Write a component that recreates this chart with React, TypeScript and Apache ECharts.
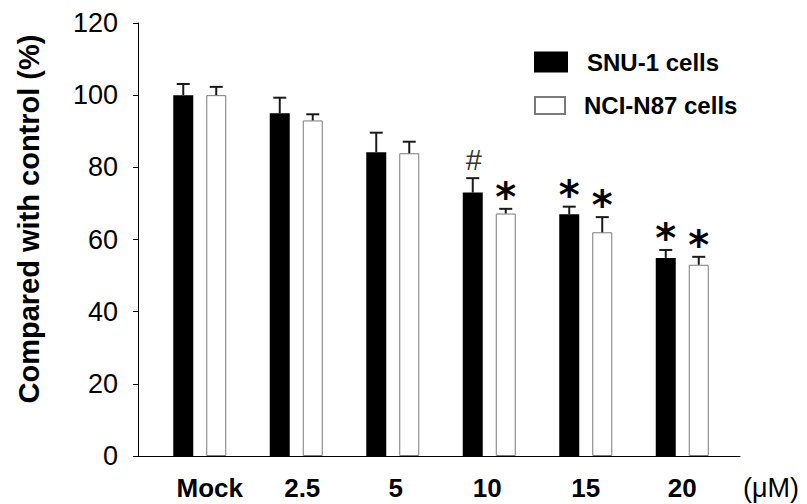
import React, { useEffect, useRef } from 'react';
import * as echarts from 'echarts';

const categories = ['Mock', '2.5', '5', '10', '15', '20'];
const snuValues = [100, 95.0, 84.2, 73.0, 67.0, 54.9];
const snuErrors = [3.1, 4.3, 5.4, 4.0, 2.1, 2.2];
const nciValues = [100, 93.0, 83.9, 67.2, 62.0, 53.0];
const nciErrors = [2.3, 1.7, 3.2, 1.3, 4.2, 2.2];
const snuMarks = ['', '', '', '#', '*', '*'];
const nciMarks = ['', '', '', '*', '*', '*'];
const seriesNames = ['SNU-1 cells', 'NCI-N87 cells'];
const yAxisTitle = 'Compared with control (%)';
const xUnit = '(\u03bcM)';

const FONT = '"Liberation Sans", Arial, Helvetica, sans-serif';
const BAR_W = 20;
const BAR_OFFSET = 16.5;

export default function App() {
  const ref = useRef<HTMLDivElement>(null);

  useEffect(() => {
    const chart = echarts.init(ref.current!, null, { renderer: 'svg' });

    const errSeries = (values: number[], errors: number[], marks: string[], dir: number) => ({
      type: 'custom',
      xAxisIndex: 1,
      yAxisIndex: 1,
      z: 5,
      data: values.map((v, i) => [i, v, v + errors[i]]),
      renderItem: (params: any, api: any) => {
        const i = api.value(0);
        const top = api.coord([i, api.value(1)]);
        const err = api.coord([i, api.value(2)]);
        const x = top[0] + dir * BAR_OFFSET;
        const mark = marks[params.dataIndex];
        const children: any[] = [
          {
            type: 'line',
            shape: { x1: x, y1: top[1], x2: x, y2: err[1] },
            style: { stroke: '#1a1a1a', lineWidth: 2 },
          },
          {
            type: 'line',
            shape: { x1: x - 6.5, y1: err[1], x2: x + 6.5, y2: err[1] },
            style: { stroke: '#1a1a1a', lineWidth: 2 },
          },
        ];
        if (mark) {
          const isStar = mark === '*';
          children.push({
            type: 'text',
            style: {
              text: mark,
              x: x + (isStar ? 0 : 1),
              y: err[1] + (isStar ? -12 : -4),
              align: 'center',
              verticalAlign: isStar ? 'middle' : 'bottom',
              fontFamily: isStar ? '"DejaVu Sans", sans-serif' : FONT,
              fontWeight: isStar ? 'bold' : 'normal',
              fontSize: isStar ? 40 : 29,
              fill: isStar ? '#000' : '#333',
            },
          });
        }
        return { type: 'group', children };
      },
    });

    const legendText = {
      fontFamily: FONT,
      fontSize: 24,
      fontWeight: 'bold',
      color: '#000',
      padding: [0, 0, 0, 14],
    };
    const labelStyle = { fontFamily: FONT, fontSize: 26, fontWeight: 'bold', color: '#000' };

    chart.setOption({
      animation: false,
      backgroundColor: '#fff',
      textStyle: { fontFamily: FONT },
      grid: [
        { left: 138, right: 67, top: 23, bottom: 48, outerBoundsMode: 'none', containLabel: false },
        { left: 151.5, width: 579, top: 23, bottom: 48, outerBoundsMode: 'none', containLabel: false },
      ],
      legend: [
        {
          data: [seriesNames[0]],
          left: 534,
          top: 50,
          padding: 0,
          icon: 'rect',
          itemWidth: 34,
          itemHeight: 21,
          selectedMode: false,
          textStyle: legendText,
        },
        {
          data: [seriesNames[1]],
          left: 534,
          top: 93.5,
          padding: 0,
          icon: 'rect',
          itemWidth: 30,
          itemHeight: 17,
          selectedMode: false,
          textStyle: legendText,
        },
      ],
      xAxis: [
        {
          type: 'value',
          gridIndex: 0,
          min: 0,
          max: 1,
          axisLine: { show: true, lineStyle: { color: '#000', width: 1 } },
          axisTick: { show: false },
          axisLabel: { show: false },
          splitLine: { show: false },
          name: xUnit,
          nameLocation: 'end',
          nameGap: 3,
          nameTextStyle: {
            fontFamily: FONT,
            fontSize: 27,
            color: '#000',
            align: 'left',
            verticalAlign: 'top',
            lineHeight: 64,
          },
        },
        {
          type: 'category',
          gridIndex: 1,
          data: categories,
          axisLine: { show: false },
          axisTick: { show: false },
          splitLine: { show: false },
          axisLabel: {
            interval: 0,
            margin: 19,
            ...labelStyle,
            formatter: (v: string, i: number) => `{l${i}|${v}}`,
            rich: {
              l0: { ...labelStyle, padding: [0, 0, 0, 20] },
              l1: { ...labelStyle, padding: [0, 0, 0, 12] },
              l2: { ...labelStyle, padding: [0, 0, 0, 6] },
              l3: { ...labelStyle, padding: [0, 4, 0, 0] },
              l4: { ...labelStyle },
              l5: { ...labelStyle },
            },
          },
        },
      ],
      yAxis: [
        {
          type: 'value',
          gridIndex: 0,
          min: 0,
          max: 120,
          interval: 20,
          axisLine: { show: true, lineStyle: { color: '#000', width: 1 } },
          axisTick: { show: true, length: 5, lineStyle: { color: '#000', width: 1 } },
          axisLabel: { margin: 20, fontFamily: FONT, fontSize: 27, color: '#000' },
          splitLine: { show: false },
        },
        {
          type: 'value',
          gridIndex: 1,
          min: 0,
          max: 120,
          interval: 20,
          show: false,
          splitLine: { show: false },
        },
      ],
      graphic: [
        {
          type: 'text',
          x: 28.5,
          y: 219,
          rotation: Math.PI / 2,
          style: {
            text: yAxisTitle,
            align: 'center',
            verticalAlign: 'middle',
            fontFamily: FONT,
            fontSize: 29,
            fontWeight: 'bold',
            fill: '#000',
          },
        },
      ],
      series: [
        {
          name: seriesNames[0],
          type: 'bar',
          xAxisIndex: 1,
          yAxisIndex: 1,
          barWidth: BAR_W,
          barGap: '65%',
          itemStyle: { color: '#000' },
          data: snuValues,
        },
        {
          name: seriesNames[1],
          type: 'bar',
          xAxisIndex: 1,
          yAxisIndex: 1,
          barWidth: BAR_W,
          barGap: '65%',
          itemStyle: { color: '#fff', borderColor: '#7a7a7a', borderWidth: 1 },
          data: nciValues,
        },
        errSeries(snuValues, snuErrors, snuMarks, -1),
        errSeries(nciValues, nciErrors, nciMarks, 1),
      ],
    });

    return () => chart.dispose();
  }, []);

  return (
    <div
      ref={ref}
      style={{ position: 'fixed', left: 0, top: 0, width: 807, height: 504, background: '#fff' }}
    />
  );
}
